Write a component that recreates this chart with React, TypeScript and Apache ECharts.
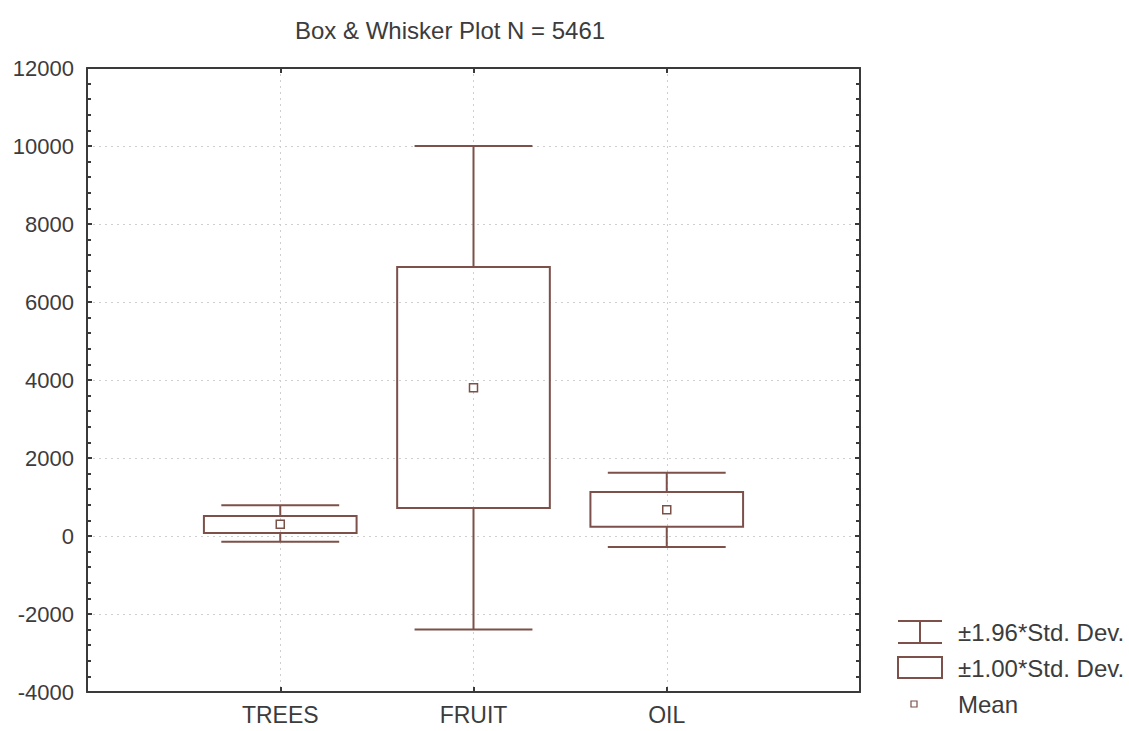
import React, { useEffect, useRef } from "react";
import * as echarts from "echarts";

const categories = ["TREES", "FRUIT", "OIL"];
const whiskerLow = [-150, -2400, -280];
const boxLow = [80, 720, 240];
const means = [300, 3800, 670];
const boxHigh = [510, 6900, 1130];
const whiskerHigh = [790, 10000, 1620];
const yTicks = { min: -4000, max: 12000, interval: 2000 };
const titleText = "Box & Whisker Plot N = 5461";
const legendLabels = ["\u00b11.96*Std. Dev.", "\u00b11.00*Std. Dev.", "Mean"];

const BROWN = "#7d5049";
const AXIS = "#3a3a3a";
const TEXT = "#3c3c3c";
const FONT = "'Liberation Sans', Arial, sans-serif";

export default function App() {
  const ref = useRef<HTMLDivElement>(null);
  useEffect(() => {
    if (!ref.current) return;
    const chart = echarts.init(ref.current, undefined, { renderer: "svg" });
    const xData = ["", ...categories, ""];
    const data = categories.map((c, i) => [
      i + 1,
      whiskerLow[i],
      boxLow[i],
      means[i],
      boxHigh[i],
      whiskerHigh[i],
    ]);
    const lineStyle = { stroke: BROWN, lineWidth: 2, fill: "none" };
    const gridLine = { show: true, lineStyle: { color: "#cfcfcf", type: [2, 4], width: 1 } };
    chart.setOption({
      animation: false,
      backgroundColor: "#ffffff",
      title: {
        text: titleText,
        left: 290,
        top: 13,
        textStyle: { fontFamily: FONT, fontSize: 24, fontWeight: "normal", color: TEXT },
      },
      grid: { left: 87, right: 269, top: 68, bottom: 39, show: false },
      xAxis: [
        {
          type: "category",
          data: xData,
          boundaryGap: false,
          position: "bottom",
          axisLine: { show: true, onZero: false, lineStyle: { color: AXIS, width: 2 } },
          axisTick: { show: true, inside: true, length: 5, lineStyle: { color: AXIS, width: 2 } },
          axisLabel: { fontFamily: FONT, fontSize: 23, color: TEXT, margin: 11 },
          splitLine: gridLine,
        },
        {
          type: "category",
          data: xData,
          boundaryGap: false,
          position: "top",
          axisLine: { show: true, onZero: false, lineStyle: { color: AXIS, width: 2 } },
          axisTick: { show: true, inside: true, length: 5, lineStyle: { color: AXIS, width: 2 } },
          axisLabel: { show: false },
          splitLine: { show: false },
        },
      ],
      yAxis: [
        {
          type: "value",
          min: yTicks.min,
          max: yTicks.max,
          interval: yTicks.interval,
          position: "left",
          axisLine: { show: true, onZero: false, lineStyle: { color: AXIS, width: 2 } },
          axisTick: { show: true, inside: true, length: 5, lineStyle: { color: AXIS, width: 2 } },
          minorTick: { show: true, splitNumber: 5, length: 4, lineStyle: { color: AXIS, width: 2 } },
          axisLabel: {
            fontFamily: FONT,
            fontSize: 22,
            color: TEXT,
            margin: 13,
            formatter: (v: number) => String(v),
          },
          splitLine: gridLine,
        },
        {
          type: "value",
          min: yTicks.min,
          max: yTicks.max,
          interval: yTicks.interval,
          position: "right",
          axisLine: { show: true, onZero: false, lineStyle: { color: AXIS, width: 2 } },
          axisTick: { show: true, inside: true, length: 5, lineStyle: { color: AXIS, width: 2 } },
          minorTick: { show: true, splitNumber: 5, length: 4, lineStyle: { color: AXIS, width: 2 } },
          axisLabel: { show: false },
          splitLine: { show: false },
        },
      ],
      series: [
        {
          type: "custom",
          xAxisIndex: 0,
          yAxisIndex: 0,
          data,
          encode: { x: 0, y: [1, 2, 3, 4, 5] },
          renderItem: (params: any, api: any) => {
            const xi = api.value(0);
            const unit = api.size([1, 0])[0];
            const pWL = api.coord([xi, api.value(1)]);
            const pBL = api.coord([xi, api.value(2)]);
            const pM = api.coord([xi, api.value(3)]);
            const pBH = api.coord([xi, api.value(4)]);
            const pWH = api.coord([xi, api.value(5)]);
            const cx = pM[0];
            const boxHalf = unit * 0.395;
            const capHalf = unit * 0.305;
            const m = 4;
            return {
              type: "group",
              children: [
                { type: "line", shape: { x1: cx, y1: pWH[1], x2: cx, y2: pBH[1] }, style: lineStyle },
                { type: "line", shape: { x1: cx, y1: pBL[1], x2: cx, y2: pWL[1] }, style: lineStyle },
                { type: "line", shape: { x1: cx - capHalf, y1: pWH[1], x2: cx + capHalf, y2: pWH[1] }, style: lineStyle },
                { type: "line", shape: { x1: cx - capHalf, y1: pWL[1], x2: cx + capHalf, y2: pWL[1] }, style: lineStyle },
                {
                  type: "rect",
                  shape: { x: cx - boxHalf, y: pBH[1], width: boxHalf * 2, height: pBL[1] - pBH[1] },
                  style: { stroke: BROWN, lineWidth: 2, fill: "none" },
                },
                {
                  type: "rect",
                  shape: { x: cx - m, y: pM[1] - m, width: 2 * m, height: 2 * m },
                  style: { stroke: BROWN, lineWidth: 1.5, fill: "#ffffff" },
                },
              ],
            };
          },
        },
      ],
      graphic: [
        { type: "line", shape: { x1: 898, y1: 621, x2: 942, y2: 621 }, style: lineStyle },
        { type: "line", shape: { x1: 898, y1: 643, x2: 942, y2: 643 }, style: lineStyle },
        { type: "line", shape: { x1: 920, y1: 621, x2: 920, y2: 643 }, style: lineStyle },
        { type: "rect", shape: { x: 898, y: 657, width: 44, height: 21 }, style: { stroke: BROWN, lineWidth: 2, fill: "none" } },
        { type: "rect", shape: { x: 911, y: 701, width: 6, height: 6 }, style: { stroke: BROWN, lineWidth: 1.2, fill: "#fff" } },
        {
          type: "text", x: 958, y: 632,
          style: { text: legendLabels[0], fontFamily: FONT, fontSize: 24, fill: TEXT, verticalAlign: "middle" },
        },
        {
          type: "text", x: 958, y: 668,
          style: { text: legendLabels[1], fontFamily: FONT, fontSize: 24, fill: TEXT, verticalAlign: "middle" },
        },
        {
          type: "text", x: 958, y: 704,
          style: { text: legendLabels[2], fontFamily: FONT, fontSize: 24, fill: TEXT, verticalAlign: "middle" },
        },
      ],
    });
    return () => chart.dispose();
  }, []);
  return (
    <div
      ref={ref}
      style={{ position: "fixed", left: 0, top: 0, width: 1129, height: 731, background: "#fff" }}
    />
  );
}
